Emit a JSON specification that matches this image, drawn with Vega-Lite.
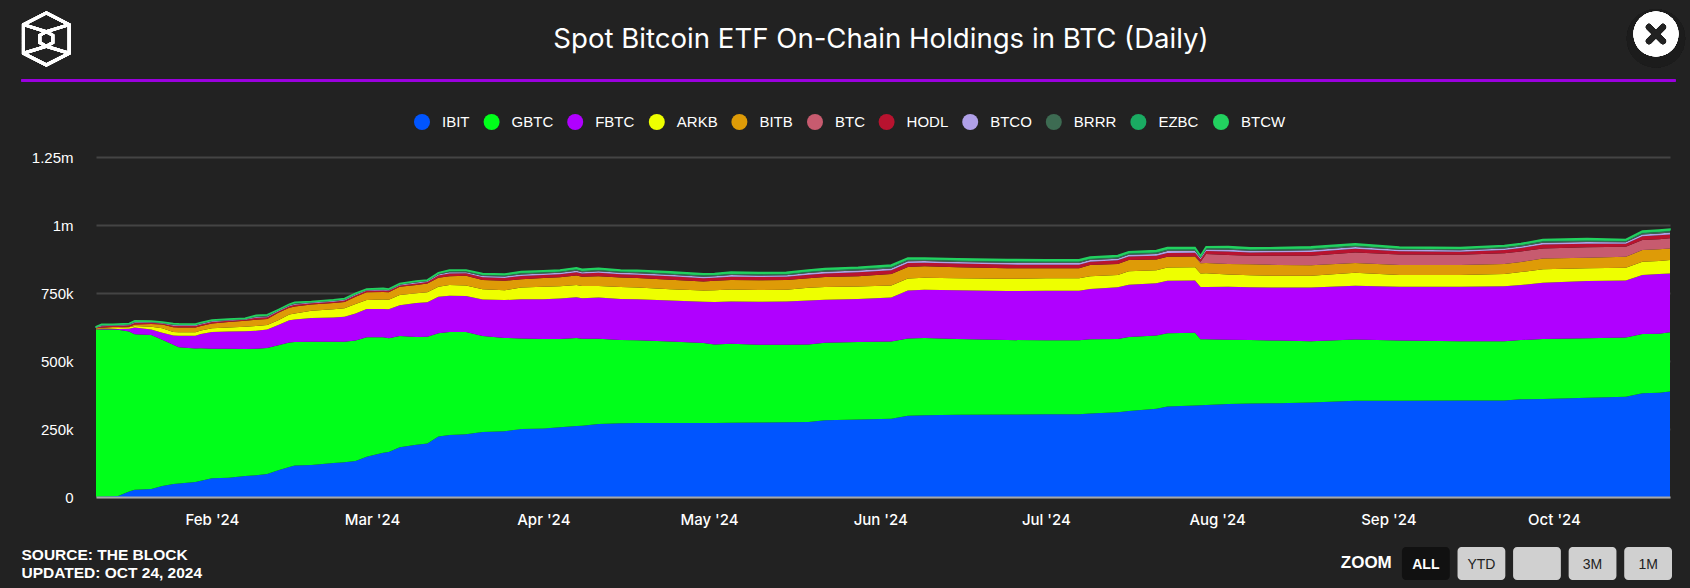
{"$schema":"https://vega.github.io/schema/vega-lite/v6.json","width":1574,"height":340,"autosize":"none","padding":{"left":96,"top":157,"right":20,"bottom":91},"background":"#222222",
"title":{"text":"Spot Bitcoin ETF On-Chain Holdings in BTC (Daily)","color":"#ffffff","font":"Inter","fontSize":27.6,"fontWeight":400,"anchor":"middle","dx":-2,"offset":-47},
"config":{"view":{"stroke":null}},
"data":{"values":[{"label":"ZOOM"},{"label":"ALL"},{"label":"YTD"},{"label":" "},{"label":"3M"},{"label":"1M"}]},
"resolve":{"scale":{"x":"independent"}},
"layer":[
{"layer":[
{"data":{"values":[
{"date":"2024-01-11","IBIT":1000,"GBTC":615000,"FBTC":1000,"ARKB":1000,"BITB":2000,"BTC":0,"HODL":2500,"BTCO":1200,"BRRR":800,"EZBC":1000,"BTCW":500},
{"date":"2024-01-12","IBIT":2000,"GBTC":614000,"FBTC":2000,"ARKB":1000,"BITB":3000,"BTC":0,"HODL":5500,"BTCO":2600,"BRRR":1800,"EZBC":2100,"BTCW":1000},
{"date":"2024-01-14","IBIT":3000,"GBTC":613000,"FBTC":2000,"ARKB":2000,"BITB":5000,"BTC":0,"HODL":4200,"BTCO":2000,"BRRR":1400,"EZBC":1600,"BTCW":800},
{"date":"2024-01-15","IBIT":4000,"GBTC":611000,"FBTC":3000,"ARKB":3000,"BITB":4000,"BTC":0,"HODL":4600,"BTCO":2200,"BRRR":1500,"EZBC":1800,"BTCW":900},
{"date":"2024-01-17","IBIT":20000,"GBTC":588000,"FBTC":11000,"ARKB":5000,"BITB":2000,"BTC":0,"HODL":5000,"BTCO":2400,"BRRR":1700,"EZBC":1900,"BTCW":1000},
{"date":"2024-01-18","IBIT":27000,"GBTC":571000,"FBTC":25000,"ARKB":6000,"BITB":5000,"BTC":0,"HODL":5900,"BTCO":2800,"BRRR":2000,"EZBC":2200,"BTCW":1100},
{"date":"2024-01-21","IBIT":29000,"GBTC":567000,"FBTC":20000,"ARKB":10000,"BITB":10000,"BTC":0,"HODL":4600,"BTCO":2200,"BRRR":1500,"EZBC":1800,"BTCW":900},
{"date":"2024-01-23","IBIT":40000,"GBTC":538000,"FBTC":26000,"ARKB":16000,"BITB":14000,"BTC":0,"HODL":3800,"BTCO":1800,"BRRR":1300,"EZBC":1400,"BTCW":700},
{"date":"2024-01-25","IBIT":48000,"GBTC":512000,"FBTC":34000,"ARKB":13000,"BITB":17000,"BTC":0,"HODL":5900,"BTCO":2800,"BRRR":2000,"EZBC":2200,"BTCW":1100},
{"date":"2024-01-26","IBIT":50000,"GBTC":501000,"FBTC":42000,"ARKB":13000,"BITB":17000,"BTC":0,"HODL":5900,"BTCO":2800,"BRRR":2000,"EZBC":2200,"BTCW":1100},
{"date":"2024-01-29","IBIT":55000,"GBTC":491000,"FBTC":47000,"ARKB":13000,"BITB":17000,"BTC":0,"HODL":5500,"BTCO":2600,"BRRR":1800,"EZBC":2100,"BTCW":1000},
{"date":"2024-01-30","IBIT":60000,"GBTC":487000,"FBTC":52000,"ARKB":13000,"BITB":17000,"BTC":0,"HODL":5500,"BTCO":2600,"BRRR":1800,"EZBC":2100,"BTCW":1000},
{"date":"2024-02-01","IBIT":69000,"GBTC":476000,"FBTC":62000,"ARKB":13000,"BITB":18000,"BTC":0,"HODL":5500,"BTCO":2600,"BRRR":1800,"EZBC":2100,"BTCW":1000},
{"date":"2024-02-04","IBIT":71000,"GBTC":474000,"FBTC":63000,"ARKB":15000,"BITB":20000,"BTC":0,"HODL":4600,"BTCO":2200,"BRRR":1500,"EZBC":1800,"BTCW":900},
{"date":"2024-02-07","IBIT":77000,"GBTC":467000,"FBTC":65000,"ARKB":17000,"BITB":22000,"BTC":0,"HODL":3800,"BTCO":1800,"BRRR":1300,"EZBC":1400,"BTCW":700},
{"date":"2024-02-09","IBIT":80000,"GBTC":465000,"FBTC":66000,"ARKB":18000,"BITB":23000,"BTC":0,"HODL":6700,"BTCO":3200,"BRRR":2200,"EZBC":2600,"BTCW":1300},
{"date":"2024-02-11","IBIT":85000,"GBTC":463000,"FBTC":68000,"ARKB":16000,"BITB":22000,"BTC":0,"HODL":6700,"BTCO":3200,"BRRR":2200,"EZBC":2600,"BTCW":1300},
{"date":"2024-02-13","IBIT":98000,"GBTC":460000,"FBTC":74000,"ARKB":18000,"BITB":27000,"BTC":0,"HODL":5000,"BTCO":2400,"BRRR":1700,"EZBC":1900,"BTCW":1000},
{"date":"2024-02-15","IBIT":110000,"GBTC":458000,"FBTC":82000,"ARKB":21000,"BITB":25000,"BTC":0,"HODL":5500,"BTCO":2600,"BRRR":1800,"EZBC":2100,"BTCW":1000},
{"date":"2024-02-16","IBIT":116000,"GBTC":454000,"FBTC":83000,"ARKB":22000,"BITB":25000,"BTC":0,"HODL":6700,"BTCO":3200,"BRRR":2200,"EZBC":2600,"BTCW":1300},
{"date":"2024-02-19","IBIT":118000,"GBTC":453000,"FBTC":87000,"ARKB":27000,"BITB":23000,"BTC":0,"HODL":4600,"BTCO":2200,"BRRR":1500,"EZBC":1800,"BTCW":900},
{"date":"2024-02-23","IBIT":125000,"GBTC":446000,"FBTC":89000,"ARKB":30000,"BITB":23000,"BTC":0,"HODL":5000,"BTCO":2400,"BRRR":1700,"EZBC":1900,"BTCW":1000},
{"date":"2024-02-25","IBIT":128000,"GBTC":443000,"FBTC":92000,"ARKB":31000,"BITB":23000,"BTC":0,"HODL":5500,"BTCO":2600,"BRRR":1800,"EZBC":2100,"BTCW":1000},
{"date":"2024-02-27","IBIT":132000,"GBTC":443000,"FBTC":100000,"ARKB":35000,"BITB":26000,"BTC":0,"HODL":5500,"BTCO":2600,"BRRR":1800,"EZBC":2100,"BTCW":1000},
{"date":"2024-02-29","IBIT":148000,"GBTC":439000,"FBTC":104000,"ARKB":33000,"BITB":29000,"BTC":0,"HODL":5000,"BTCO":2400,"BRRR":1700,"EZBC":1900,"BTCW":1000},
{"date":"2024-03-03","IBIT":163000,"GBTC":424000,"FBTC":104000,"ARKB":35000,"BITB":28000,"BTC":0,"HODL":5500,"BTCO":2600,"BRRR":1800,"EZBC":2100,"BTCW":1000},
{"date":"2024-03-04","IBIT":165000,"GBTC":419000,"FBTC":106000,"ARKB":35000,"BITB":28000,"BTC":0,"HODL":5000,"BTCO":2400,"BRRR":1700,"EZBC":1900,"BTCW":1000},
{"date":"2024-03-06","IBIT":183000,"GBTC":409000,"FBTC":113000,"ARKB":38000,"BITB":30000,"BTC":0,"HODL":5000,"BTCO":2400,"BRRR":1700,"EZBC":1900,"BTCW":1000},
{"date":"2024-03-09","IBIT":192000,"GBTC":396000,"FBTC":125000,"ARKB":36000,"BITB":30000,"BTC":0,"HODL":6300,"BTCO":3000,"BRRR":2100,"EZBC":2400,"BTCW":1200},
{"date":"2024-03-11","IBIT":197000,"GBTC":392000,"FBTC":127000,"ARKB":37000,"BITB":32000,"BTC":0,"HODL":5500,"BTCO":2600,"BRRR":1800,"EZBC":2100,"BTCW":1000},
{"date":"2024-03-13","IBIT":222000,"GBTC":380000,"FBTC":134000,"ARKB":37000,"BITB":33000,"BTC":0,"HODL":8000,"BTCO":3800,"BRRR":2700,"EZBC":3000,"BTCW":1500},
{"date":"2024-03-15","IBIT":228000,"GBTC":379000,"FBTC":133000,"ARKB":39000,"BITB":33000,"BTC":0,"HODL":9700,"BTCO":4600,"BRRR":3200,"EZBC":3700,"BTCW":1800},
{"date":"2024-03-18","IBIT":231000,"GBTC":376000,"FBTC":132000,"ARKB":39000,"BITB":35000,"BTC":0,"HODL":9200,"BTCO":4400,"BRRR":3100,"EZBC":3500,"BTCW":1800},
{"date":"2024-03-21","IBIT":239000,"GBTC":353000,"FBTC":134000,"ARKB":38000,"BITB":34000,"BTC":0,"HODL":10100,"BTCO":4800,"BRRR":3400,"EZBC":3800,"BTCW":1900},
{"date":"2024-03-25","IBIT":242000,"GBTC":343000,"FBTC":139000,"ARKB":36000,"BITB":35000,"BTC":0,"HODL":10500,"BTCO":5000,"BRRR":3500,"EZBC":4000,"BTCW":2000},
{"date":"2024-03-28","IBIT":250000,"GBTC":333000,"FBTC":144000,"ARKB":43000,"BITB":31000,"BTC":0,"HODL":11800,"BTCO":5600,"BRRR":3900,"EZBC":4500,"BTCW":2200},
{"date":"2024-04-01","IBIT":252000,"GBTC":329000,"FBTC":146000,"ARKB":46000,"BITB":32000,"BTC":0,"HODL":11300,"BTCO":5400,"BRRR":3800,"EZBC":4300,"BTCW":2200},
{"date":"2024-04-04","IBIT":256000,"GBTC":325000,"FBTC":149000,"ARKB":45000,"BITB":33000,"BTC":0,"HODL":11300,"BTCO":5400,"BRRR":3800,"EZBC":4300,"BTCW":2200},
{"date":"2024-04-07","IBIT":261000,"GBTC":324000,"FBTC":149000,"ARKB":45000,"BITB":35000,"BTC":0,"HODL":12200,"BTCO":5800,"BRRR":4100,"EZBC":4600,"BTCW":2300},
{"date":"2024-04-08","IBIT":262000,"GBTC":320000,"FBTC":149000,"ARKB":45000,"BITB":34000,"BTC":0,"HODL":11300,"BTCO":5400,"BRRR":3800,"EZBC":4300,"BTCW":2200},
{"date":"2024-04-11","IBIT":268000,"GBTC":314000,"FBTC":151000,"ARKB":43000,"BITB":36000,"BTC":0,"HODL":12200,"BTCO":5800,"BRRR":4100,"EZBC":4600,"BTCW":2300},
{"date":"2024-04-15","IBIT":271000,"GBTC":306000,"FBTC":151000,"ARKB":44000,"BITB":35000,"BTC":0,"HODL":11800,"BTCO":5600,"BRRR":3900,"EZBC":4500,"BTCW":2200},
{"date":"2024-04-18","IBIT":272000,"GBTC":304000,"FBTC":151000,"ARKB":43000,"BITB":35000,"BTC":0,"HODL":12200,"BTCO":5800,"BRRR":4100,"EZBC":4600,"BTCW":2300},
{"date":"2024-04-24","IBIT":272000,"GBTC":300000,"FBTC":150000,"ARKB":42000,"BITB":35000,"BTC":0,"HODL":12200,"BTCO":5800,"BRRR":4100,"EZBC":4600,"BTCW":2300},
{"date":"2024-04-30","IBIT":272000,"GBTC":294000,"FBTC":152000,"ARKB":41000,"BITB":33000,"BTC":0,"HODL":12200,"BTCO":5800,"BRRR":4100,"EZBC":4600,"BTCW":2300},
{"date":"2024-05-02","IBIT":272000,"GBTC":289000,"FBTC":156000,"ARKB":43000,"BITB":35000,"BTC":0,"HODL":11300,"BTCO":5400,"BRRR":3800,"EZBC":4300,"BTCW":2200},
{"date":"2024-05-05","IBIT":273000,"GBTC":290000,"FBTC":156000,"ARKB":44000,"BITB":35000,"BTC":0,"HODL":12200,"BTCO":5800,"BRRR":4100,"EZBC":4600,"BTCW":2300},
{"date":"2024-05-10","IBIT":274000,"GBTC":286000,"FBTC":158000,"ARKB":43000,"BITB":36000,"BTC":0,"HODL":11800,"BTCO":5600,"BRRR":3900,"EZBC":4500,"BTCW":2200},
{"date":"2024-05-15","IBIT":275000,"GBTC":285000,"FBTC":159000,"ARKB":43000,"BITB":36000,"BTC":0,"HODL":11800,"BTCO":5600,"BRRR":3900,"EZBC":4500,"BTCW":2200},
{"date":"2024-05-19","IBIT":276000,"GBTC":285000,"FBTC":161000,"ARKB":47000,"BITB":35000,"BTC":0,"HODL":13000,"BTCO":6200,"BRRR":4300,"EZBC":5000,"BTCW":2500},
{"date":"2024-05-22","IBIT":282000,"GBTC":285000,"FBTC":158000,"ARKB":47000,"BITB":37000,"BTC":0,"HODL":13000,"BTCO":6200,"BRRR":4300,"EZBC":5000,"BTCW":2500},
{"date":"2024-05-28","IBIT":285000,"GBTC":285000,"FBTC":158000,"ARKB":46000,"BITB":38000,"BTC":0,"HODL":13900,"BTCO":6600,"BRRR":4600,"EZBC":5300,"BTCW":2600},
{"date":"2024-06-03","IBIT":288000,"GBTC":284000,"FBTC":161000,"ARKB":45000,"BITB":42000,"BTC":0,"HODL":13900,"BTCO":6600,"BRRR":4600,"EZBC":5300,"BTCW":2600},
{"date":"2024-06-06","IBIT":299000,"GBTC":284000,"FBTC":176000,"ARKB":44000,"BITB":43000,"BTC":0,"HODL":13900,"BTCO":6600,"BRRR":4600,"EZBC":5300,"BTCW":2600},
{"date":"2024-06-09","IBIT":301000,"GBTC":284000,"FBTC":177000,"ARKB":44000,"BITB":42000,"BTC":0,"HODL":13000,"BTCO":6200,"BRRR":4300,"EZBC":5000,"BTCW":2500},
{"date":"2024-06-15","IBIT":302000,"GBTC":279000,"FBTC":179000,"ARKB":44000,"BITB":41000,"BTC":0,"HODL":13000,"BTCO":6200,"BRRR":4300,"EZBC":5000,"BTCW":2500},
{"date":"2024-06-24","IBIT":303000,"GBTC":274000,"FBTC":180000,"ARKB":45000,"BITB":39000,"BTC":0,"HODL":13400,"BTCO":6400,"BRRR":4500,"EZBC":5100,"BTCW":2600},
{"date":"2024-07-01","IBIT":304000,"GBTC":272000,"FBTC":182000,"ARKB":46000,"BITB":37000,"BTC":0,"HODL":13000,"BTCO":6200,"BRRR":4300,"EZBC":5000,"BTCW":2500},
{"date":"2024-07-07","IBIT":304000,"GBTC":272000,"FBTC":182000,"ARKB":46000,"BITB":37000,"BTC":0,"HODL":13000,"BTCO":6200,"BRRR":4300,"EZBC":5000,"BTCW":2500},
{"date":"2024-07-09","IBIT":307000,"GBTC":273000,"FBTC":185000,"ARKB":47000,"BITB":41000,"BTC":0,"HODL":12200,"BTCO":5800,"BRRR":4100,"EZBC":4600,"BTCW":2300},
{"date":"2024-07-14","IBIT":312000,"GBTC":269000,"FBTC":190000,"ARKB":45000,"BITB":41000,"BTC":0,"HODL":13000,"BTCO":6200,"BRRR":4300,"EZBC":5000,"BTCW":2500},
{"date":"2024-07-16","IBIT":316000,"GBTC":272000,"FBTC":192000,"ARKB":50000,"BITB":41000,"BTC":0,"HODL":13000,"BTCO":6200,"BRRR":4300,"EZBC":5000,"BTCW":2500},
{"date":"2024-07-21","IBIT":324000,"GBTC":270000,"FBTC":192000,"ARKB":48000,"BITB":39000,"BTC":0,"HODL":13900,"BTCO":6600,"BRRR":4600,"EZBC":5300,"BTCW":2600},
{"date":"2024-07-23","IBIT":333000,"GBTC":269000,"FBTC":193000,"ARKB":49000,"BITB":39000,"BTC":0,"HODL":14300,"BTCO":6800,"BRRR":4800,"EZBC":5400,"BTCW":2700},
{"date":"2024-07-28","IBIT":336000,"GBTC":268000,"FBTC":192000,"ARKB":49000,"BITB":39000,"BTC":0,"HODL":13900,"BTCO":6600,"BRRR":4600,"EZBC":5300,"BTCW":2600},
{"date":"2024-07-29","IBIT":337000,"GBTC":243000,"FBTC":192000,"ARKB":50000,"BITB":37000,"BTC":6000,"HODL":9200,"BTCO":4400,"BRRR":3100,"EZBC":3500,"BTCW":1800},
{"date":"2024-07-30","IBIT":338000,"GBTC":242000,"FBTC":192000,"ARKB":51000,"BITB":37000,"BTC":33000,"HODL":11300,"BTCO":5400,"BRRR":3800,"EZBC":4300,"BTCW":2200},
{"date":"2024-08-03","IBIT":342000,"GBTC":236000,"FBTC":195000,"ARKB":45000,"BITB":39000,"BTC":33000,"HODL":13000,"BTCO":6200,"BRRR":4300,"EZBC":5000,"BTCW":2500},
{"date":"2024-08-07","IBIT":344000,"GBTC":233000,"FBTC":194000,"ARKB":44000,"BITB":41000,"BTC":31000,"HODL":12200,"BTCO":5800,"BRRR":4100,"EZBC":4600,"BTCW":2300},
{"date":"2024-08-12","IBIT":345000,"GBTC":230000,"FBTC":195000,"ARKB":43000,"BITB":40000,"BTC":34000,"HODL":12600,"BTCO":6000,"BRRR":4200,"EZBC":4800,"BTCW":2400},
{"date":"2024-08-18","IBIT":347000,"GBTC":226000,"FBTC":197000,"ARKB":43000,"BITB":39000,"BTC":35000,"HODL":13900,"BTCO":6600,"BRRR":4600,"EZBC":5300,"BTCW":2600},
{"date":"2024-08-26","IBIT":354000,"GBTC":225000,"FBTC":198000,"ARKB":47000,"BITB":36000,"BTC":39000,"HODL":13400,"BTCO":6400,"BRRR":4500,"EZBC":5100,"BTCW":2600},
{"date":"2024-09-03","IBIT":354000,"GBTC":221000,"FBTC":198000,"ARKB":43000,"BITB":37000,"BTC":39000,"HODL":11300,"BTCO":5400,"BRRR":3800,"EZBC":4300,"BTCW":2200},
{"date":"2024-09-14","IBIT":355000,"GBTC":218000,"FBTC":200000,"ARKB":43000,"BITB":37000,"BTC":38000,"HODL":10900,"BTCO":5200,"BRRR":3600,"EZBC":4200,"BTCW":2100},
{"date":"2024-09-22","IBIT":355000,"GBTC":218000,"FBTC":202000,"ARKB":45000,"BITB":37000,"BTC":39000,"HODL":12200,"BTCO":5800,"BRRR":4100,"EZBC":4600,"BTCW":2300},
{"date":"2024-09-25","IBIT":359000,"GBTC":218000,"FBTC":202000,"ARKB":48000,"BITB":37000,"BTC":39000,"HODL":12200,"BTCO":5800,"BRRR":4100,"EZBC":4600,"BTCW":2300},
{"date":"2024-09-29","IBIT":360000,"GBTC":221000,"FBTC":207000,"ARKB":49000,"BITB":40000,"BTC":37000,"HODL":13900,"BTCO":6600,"BRRR":4600,"EZBC":5300,"BTCW":2600},
{"date":"2024-10-07","IBIT":365000,"GBTC":219000,"FBTC":210000,"ARKB":47000,"BITB":39000,"BTC":38000,"HODL":13400,"BTCO":6400,"BRRR":4500,"EZBC":5100,"BTCW":2600},
{"date":"2024-10-14","IBIT":369000,"GBTC":217000,"FBTC":210000,"ARKB":47000,"BITB":40000,"BTC":37000,"HODL":11300,"BTCO":5400,"BRRR":3800,"EZBC":4300,"BTCW":2200},
{"date":"2024-10-17","IBIT":381000,"GBTC":218000,"FBTC":217000,"ARKB":49000,"BITB":43000,"BTC":37000,"HODL":13900,"BTCO":6600,"BRRR":4600,"EZBC":5300,"BTCW":2600},
{"date":"2024-10-20","IBIT":383000,"GBTC":217000,"FBTC":220000,"ARKB":48000,"BITB":43000,"BTC":37000,"HODL":14300,"BTCO":6800,"BRRR":4800,"EZBC":5400,"BTCW":2700},
{"date":"2024-10-22","IBIT":388000,"GBTC":218000,"FBTC":216000,"ARKB":49000,"BITB":43000,"BTC":37000,"HODL":14300,"BTCO":6800,"BRRR":4800,"EZBC":5400,"BTCW":2700}
]},
"transform":[{"fold":["IBIT","GBTC","FBTC","ARKB","BITB","BTC","HODL","BTCO","BRRR","EZBC","BTCW"],"as":["fund","btc"]},{"calculate":"indexof(['IBIT','GBTC','FBTC','ARKB','BITB','BTC','HODL','BTCO','BRRR','EZBC','BTCW'],datum.fund)","as":"rank"}],
"mark":{"type":"area","interpolate":"linear","strokeWidth":1.5},
"encoding":{
"x":{"field":"date","type":"temporal","scale":{"type":"utc","domain":[1704931200000,1729555200000]},"axis":{"title":["SOURCE: THE BLOCK","UPDATED: OCT 24, 2024"],"titleColor":"#ffffff","titleFont":"Liberation Sans","titleFontSize":15.5,"titleFontWeight":700,"titleAlign":"left","titleAnchor":"start","titleBaseline":"middle","titleX":-75,"titleY":57,"titleLineHeight":18,"format":"%b '%y","tickCount":{"interval":"month","step":1},"grid":false,"ticks":false,"domainColor":"#a8a8a8","domainWidth":2,"labelColor":"#ffffff","labelFont":"Inter","labelFontSize":15,"labelFontWeight":500,"labelPadding":15,"labelFlush":false,"labelOverlap":false,"zindex":1}},
"y":{"field":"btc","type":"quantitative","stack":"zero","scale":{"domain":[0,1250000],"nice":false},"axis":{"title":null,"values":[0,250000,500000,750000,1000000,1250000],"labelExpr":"datum.value>=1000000?(datum.value/1000000)+'m':datum.value>0?(datum.value/1000)+'k':'0'","domain":false,"ticks":false,"grid":true,"gridColor":"#444444","gridWidth":2,"labelColor":"#ffffff","labelFont":"Liberation Sans","labelFontSize":15,"labelPadding":23}},
"color":{"field":"fund","type":"nominal","scale":{"domain":["IBIT","GBTC","FBTC","ARKB","BITB","BTC","HODL","BTCO","BRRR","EZBC","BTCW"],"range":["#0055ff","#00ff1a","#b000ff","#eeff00","#de9b07","#c75b6f","#b8132f","#b0a0e8","#3d6b52","#1aab62","#22d15f"]},"legend":{"title":null,"orient":"none","legendX":318,"legendY":-43,"direction":"horizontal","columns":11,"symbolType":"circle","symbolSize":256,"symbolStrokeWidth":0,"symbolOpacity":1,"labelColor":"#ffffff","labelFont":"Liberation Sans","labelFontSize":15,"labelOffset":12,"columnPadding":13.6}},
"stroke":{"condition":{"test":"datum.fund==='BTCW'","value":"#22d15f"},"value":null},
"order":{"field":"rank","type":"quantitative"}}},
{"mark":{"type":"rule","stroke":"#9b00e0","strokeWidth":2},"encoding":{"x":{"datum":1703764800000,"type":"temporal"},"x2":{"datum":1729641600000},"y":{"datum":1531000,"type":"quantitative"}}},
{"mark":{"type":"point","shape":"M0,-1L0.88,-0.55L0.88,0.55L0,1L-0.88,0.55L-0.88,-0.55ZM0,-0.28L0.25,-0.14L0.25,0.14L0,0.28L-0.25,0.14L-0.25,-0.14ZM-0.88,-0.55L0,-0.28L0.88,-0.55M-0.88,0.55L0,0.28L0.88,0.55","filled":false,"stroke":"#ffffff","strokeWidth":3,"size":2704,"opacity":1},"encoding":{"x":{"datum":1704153600000,"type":"temporal"},"y":{"datum":1684000,"type":"quantitative"}}},
{"mark":{"type":"point","shape":"circle","filled":true,"fill":"#1c1c1c","size":3400,"opacity":1},"encoding":{"x":{"datum":1729335600000,"type":"temporal"},"y":{"datum":1686000,"type":"quantitative"}}},
{"mark":{"type":"point","shape":"circle","filled":true,"fill":"#ffffff","size":2025,"opacity":1},"encoding":{"x":{"datum":1729335600000,"type":"temporal"},"y":{"datum":1702000,"type":"quantitative"}}},
{"mark":{"type":"point","shape":"M-1,-1L1,1M-1,1L1,-1","filled":false,"stroke":"#222222","strokeWidth":6,"strokeCap":"round","size":196,"opacity":1},"encoding":{"x":{"datum":1729335600000,"type":"temporal"},"y":{"datum":1702000,"type":"quantitative"}}}
]},
{"layer":[
{"transform":[{"filter":"datum.label!=='ZOOM'"}],"mark":{"type":"bar","cornerRadius":4},"encoding":{
"x":{"field":"label","type":"nominal","sort":null,"scale":{"type":"band","domain":["ZOOM","ALL","YTD"," ","3M","1M"],"range":[1250.4,1576],"paddingInner":0.14,"paddingOuter":0},"axis":null},
"y":{"datum":-184000,"type":"quantitative"},"y2":{"datum":-305000},
"color":{"condition":{"test":"datum.label==='ALL'","value":"#111111"},"value":"#d0d0d0"}}},
{"transform":[{"filter":"datum.label!=='ZOOM'&&datum.label!=='ALL'"}],"mark":{"type":"text","font":"Liberation Sans","fontSize":14,"color":"#222222"},"encoding":{
"x":{"field":"label","type":"nominal","sort":null,"axis":null},
"y":{"datum":-250000,"type":"quantitative"},
"text":{"field":"label"}}},
{"transform":[{"filter":"datum.label==='ALL'"}],"mark":{"type":"text","font":"Liberation Sans","fontSize":14,"fontWeight":700,"color":"#ffffff"},"encoding":{
"x":{"field":"label","type":"nominal","sort":null,"axis":null},
"y":{"datum":-250000,"type":"quantitative"},
"text":{"field":"label"}}},
{"transform":[{"filter":"datum.label==='ZOOM'"}],"mark":{"type":"text","font":"Liberation Sans","fontSize":17,"fontWeight":700,"color":"#ffffff","dx":-4},"encoding":{
"x":{"field":"label","type":"nominal","sort":null,"axis":null},
"y":{"datum":-243000,"type":"quantitative"},
"text":{"field":"label"}}}
]}
]}
